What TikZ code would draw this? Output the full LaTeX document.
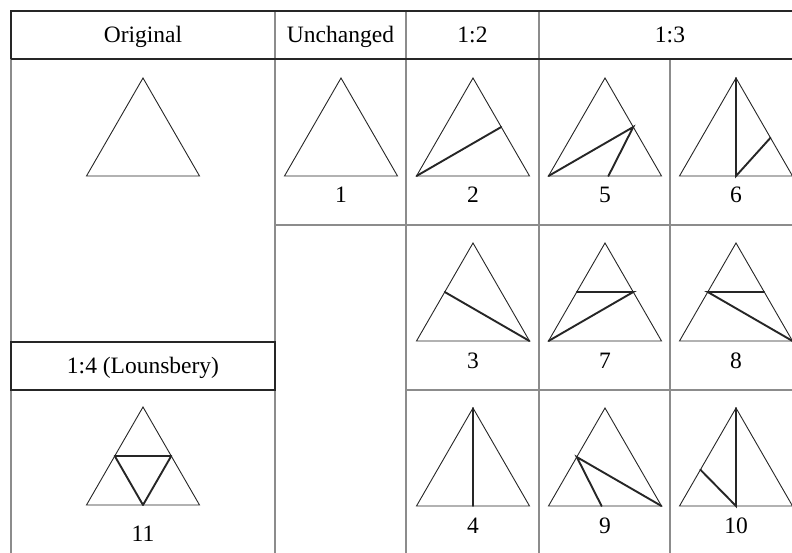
\documentclass[tikz,border=0pt]{standalone}
\usepackage{fontspec}
\setmainfont{Liberation Serif}
\usetikzlibrary{calc}
\begin{document}
\begin{tikzpicture}[x=1pt, y=-1pt,
  grid/.style={line width=1.8pt, black!45},
  headline/.style={line width=2pt, black!85},
  outline/.style={line width=0.9pt, black!85, line join=miter},
  split/.style={line width=1.9pt, black!85, line cap=round},
  lbl/.style={font=\fontsize{23.5}{26}\selectfont, inner sep=0pt, anchor=base}]

  \useasboundingbox (0,0) rectangle (792,553);

  % --- 1. 表の罫線 ---
  \draw[grid] (11,59) -- (11,560);
  \draw[grid] (275,11) -- (275,560);
  \draw[grid] (406,11) -- (406,560);
  \draw[grid] (539,11) -- (539,560);
  \draw[grid] (670,59) -- (670,560);
  \draw[grid] (275,225) -- (810,225);
  \draw[grid] (406,390) -- (810,390);

  % 見出し行（濃い枠）
  \draw[headline] (11,59) -- (11,11) -- (810,11);
  \draw[headline] (11,59) -- (810,59);
  \draw[headline] (11,342) rectangle (275,390);

  % --- 2. 見出しの文字（ベースライン基準） ---
  \node[lbl] (hOrig) at (143,43) {Original};
  \node[lbl] (hUnch) at (340.5,43) {Unchanged};
  \node[lbl] (hHalf) at (472.5,43) {1:2};
  \node[lbl] (hThird) at (670,43) {1:3};
  \node[lbl] (hLoun) at (143,373) {1:4 (Lounsbery)};

  % --- 3. 三角形（番号 / 中心 x / 底辺 y / 番号の y） ---
  \foreach \n/\cx/\by/\ly in {0/143/176/0, 1/341/176/203, 2/473/176/203,
      5/605/176/203, 6/736/176/203, 3/473/341/368, 7/605/341/368,
      8/736/341/368, 4/473/506/533, 9/605/506/533, 10/736/506/533,
      11/143/505/541} {
    \coordinate (t\n l) at (\cx-56.5,\by);
    \coordinate (t\n r) at (\cx+56.5,\by);
    \coordinate (t\n a) at (\cx,\by-98);
    \draw[outline] (t\n l) -- (t\n r) -- (t\n a) -- cycle;
    \ifnum\n>0
      \node[lbl] (n\n) at (\cx,\ly) {\n};
    \fi
  }

  % --- 4. 分割線（太線） ---
  % 1:2
  \draw[split] (t2l) -- ($(t2a)!0.5!(t2r)$);
  \draw[split] ($(t3a)!0.5!(t3l)$) -- (t3r);
  \draw[split] (t4a) -- ($(t4l)!0.5!(t4r)$);

  % 1:3
  \draw[split] (t5l) -- ($(t5a)!0.5!(t5r)$) -- ($(t5l)!0.53!(t5r)$);
  \draw[split] (t6a) -- ($(t6l)!0.5!(t6r)$) -- ($(t6a)!0.61!(t6r)$);
  \draw[split] (t7l) -- ($(t7a)!0.5!(t7r)$) -- ($(t7a)!0.5!(t7l)$);
  \draw[split] (t8r) -- ($(t8a)!0.5!(t8l)$) -- ($(t8a)!0.5!(t8r)$);
  \draw[split] (t9r) -- ($(t9a)!0.5!(t9l)$) -- ($(t9l)!0.47!(t9r)$);
  \draw[split] (t10a) -- ($(t10l)!0.5!(t10r)$) -- ($(t10a)!0.63!(t10l)$);

  % 1:4 (Lounsbery) 中点を結ぶ三角形
  \draw[split, line join=round] ($(t11a)!0.5!(t11l)$) -- ($(t11a)!0.5!(t11r)$)
    -- ($(t11l)!0.5!(t11r)$) -- cycle;

\end{tikzpicture}
\end{document}
